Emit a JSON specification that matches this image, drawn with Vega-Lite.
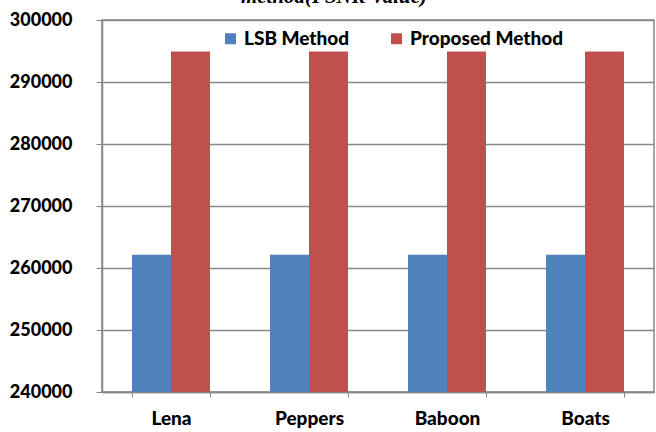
{
  "$schema": "https://vega.github.io/schema/vega-lite/v6.json",
  "autosize": "none",
  "width": 552,
  "height": 372,
  "padding": {"left": 102, "top": 20, "right": 2, "bottom": 40},
  "background": "white",
  "title": {
    "text": "method(PSNR Value)",
    "font": "Liberation Serif",
    "fontSize": 21,
    "fontWeight": "bold",
    "fontStyle": "italic",
    "color": "black",
    "anchor": "middle",
    "baseline": "alphabetic",
    "offset": 0,
    "dy": 13,
    "dx": -44
  },
  "data": {
    "values": [
      {"image": "Lena", "method": "LSB Method", "value": 262144},
      {"image": "Lena", "method": "Proposed Method", "value": 294900},
      {"image": "Peppers", "method": "LSB Method", "value": 262144},
      {"image": "Peppers", "method": "Proposed Method", "value": 294900},
      {"image": "Baboon", "method": "LSB Method", "value": 262144},
      {"image": "Baboon", "method": "Proposed Method", "value": 294900},
      {"image": "Boats", "method": "LSB Method", "value": 262144},
      {"image": "Boats", "method": "Proposed Method", "value": 294900}
    ]
  },
  "mark": {"type": "bar", "clip": true},
  "encoding": {
    "x": {
      "field": "image",
      "type": "nominal",
      "sort": ["Lena", "Peppers", "Baboon", "Boats"],
      "scale": {"paddingInner": 0.435, "paddingOuter": 0.2175},
      "axis": {
        "title": null,
        "labelAngle": 0,
        "labelFont": "Lato",
        "labelFontSize": 19,
        "labelFontWeight": 900,
        "labelColor": "black",
        "labelPadding": 12,
        "tickBand": "extent",
        "tickSize": 5,
        "tickColor": "#888888",
        "domainColor": "#888888",
        "domainWidth": 1.5,
        "grid": false
      }
    },
    "xOffset": {
      "field": "method",
      "type": "nominal",
      "sort": ["LSB Method", "Proposed Method"],
      "scale": {"paddingInner": 0, "paddingOuter": 0}
    },
    "y": {
      "field": "value",
      "type": "quantitative",
      "scale": {"domain": [240000, 300000], "nice": false, "zero": false},
      "axis": {
        "title": null,
        "values": [240000, 250000, 260000, 270000, 280000, 290000, 300000],
        "format": "d",
        "labelFont": "Lato",
        "labelFontSize": 18,
        "labelFontWeight": 900,
        "labelColor": "black",
        "labelPadding": 24,
        "tickSize": 6,
        "tickColor": "#888888",
        "domainColor": "#888888",
        "domainWidth": 1.5,
        "grid": true,
        "gridColor": "#888888",
        "gridWidth": 1.5
      }
    },
    "color": {
      "field": "method",
      "type": "nominal",
      "sort": ["LSB Method", "Proposed Method"],
      "scale": {"range": ["#4F81BD", "#C0504D"]},
      "legend": {
        "title": null,
        "orient": "none",
        "direction": "horizontal",
        "legendX": 119,
        "legendY": 9,
        "symbolType": "square",
        "symbolSize": 120,
        "symbolStrokeWidth": 0,
        "labelFont": "Lato",
        "labelFontSize": 19,
        "labelFontWeight": 900,
        "labelColor": "black",
        "labelOffset": 4,
        "columnPadding": 37
      }
    }
  },
  "config": {
    "view": {"stroke": "#888888", "strokeWidth": 1.5}
  }
}
